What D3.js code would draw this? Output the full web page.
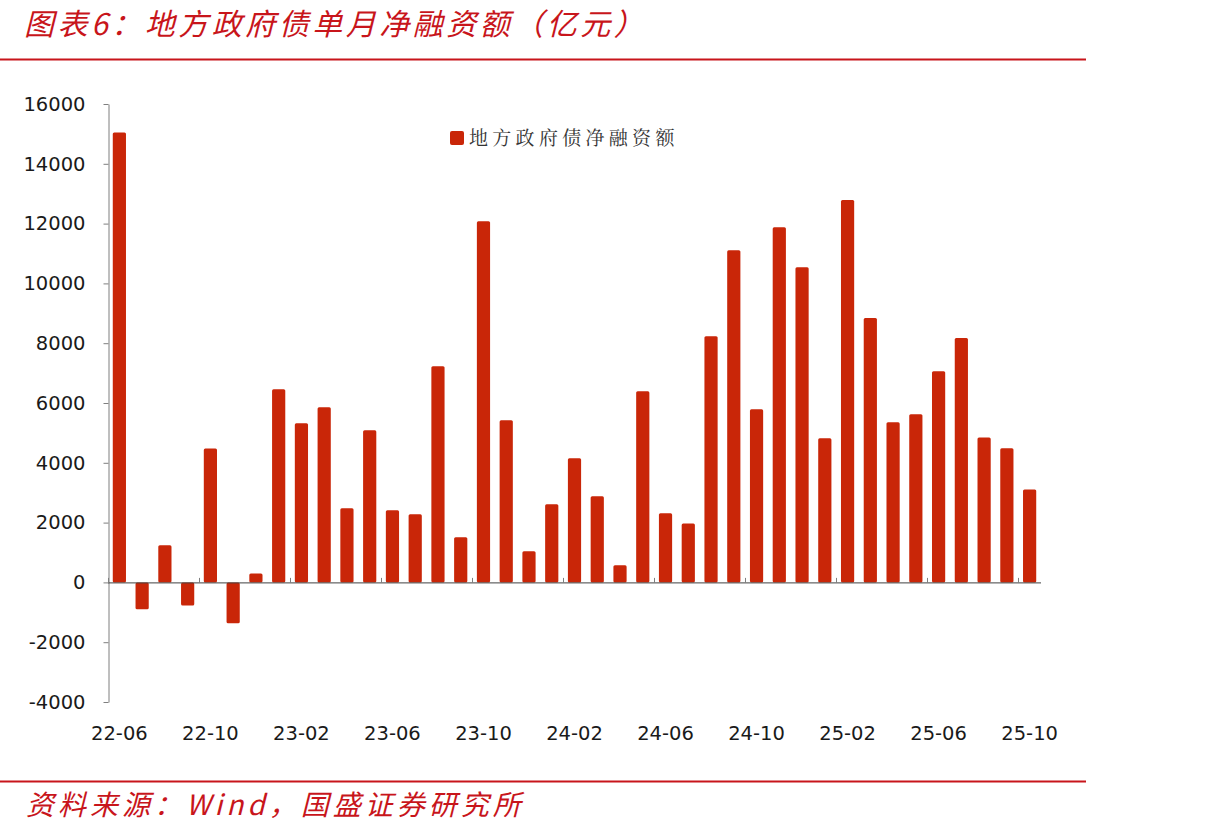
<!DOCTYPE html>
<html>
<head>
<meta charset="utf-8">
<script src="https://cdn.jsdelivr.net/npm/d3@7"></script>
<style>
  body { margin: 0; background: #fff; }
  svg { display: block; }
</style>
</head>
<body>
<div id="chart"></div>
<script>
const width = 1205;
const height = 835;

// monthly net financing of local government bonds, 100m yuan
const months = [
  '22-06', '22-07', '22-08', '22-09', '22-10', '22-11', '22-12',
  '23-01', '23-02', '23-03', '23-04', '23-05', '23-06', '23-07', '23-08', '23-09', '23-10', '23-11', '23-12',
  '24-01', '24-02', '24-03', '24-04', '24-05', '24-06', '24-07', '24-08', '24-09', '24-10', '24-11', '24-12',
  '25-01', '25-02', '25-03', '25-04', '25-05', '25-06', '25-07', '25-08', '25-09', '25-10'
];
const netFinancing = [
  15050, -900, 1240, -770, 4480, -1370, 300,
  6460, 5320, 5860, 2480, 5090, 2410, 2280, 7230, 1510, 12080, 5420, 1040,
  2610, 4150, 2880, 570, 6390, 2310, 1970, 8230, 11110, 5790, 11880, 10540,
  4820, 12790, 8840, 5360, 5620, 7060, 8170, 4850, 4490, 3110
];
const yTicks = [-4000, -2000, 0, 2000, 4000, 6000, 8000, 10000, 12000, 14000, 16000];
const xTickLabels = ['22-06', '22-10', '23-02', '23-06', '23-10', '24-02', '24-06', '24-10', '25-02', '25-06', '25-10'];

const seriesName = '地方政府债净融资额';
const titleText = '图表6：地方政府债单月净融资额（亿元）';
const sourceText = '资料来源：Wind，国盛证券研究所';

const red = '#c8151b';
const barColor = '#c92608';
const axisColor = '#7f7f7f';

const svg = d3.select('#chart')
  .append('svg')
  .attr('width', width)
  .attr('height', height);

// header and footer
svg.append('text')
  .attr('x', 24)
  .attr('y', 35)
  .attr('fill', red)
  .style('font-family', '"Noto Sans CJK SC", sans-serif')
  .style('font-size', '30px')
  .style('font-style', 'italic')
  .style('letter-spacing', '3.5px')
  .text(titleText);

svg.append('line')
  .attr('x1', 0).attr('x2', 1086)
  .attr('y1', 59.5).attr('y2', 59.5)
  .attr('stroke', red)
  .attr('stroke-width', 2);

svg.append('line')
  .attr('x1', 0).attr('x2', 1086)
  .attr('y1', 781.5).attr('y2', 781.5)
  .attr('stroke', red)
  .attr('stroke-width', 2);

svg.append('text')
  .attr('x', 26)
  .attr('y', 815)
  .attr('fill', red)
  .style('font-family', '"Noto Sans CJK SC", sans-serif')
  .style('font-size', '28px')
  .style('font-style', 'italic')
  .style('letter-spacing', '4px')
  .text(sourceText);

// scales
const x = d3.scaleBand()
  .domain(months)
  .range([108, 1041])
  .paddingInner(0.42)
  .paddingOuter(0.21);

const y = d3.scaleLinear()
  .domain([-4000, 16000])
  .range([702, 104]);

const chart = svg.append('g');

// bars
chart.selectAll('rect.bar')
  .data(months.map((m, i) => ({ month: m, value: netFinancing[i] })))
  .join('rect')
  .attr('class', 'bar')
  .attr('x', (d) => x(d.month))
  .attr('width', x.bandwidth())
  .attr('y', (d) => y(Math.max(0, d.value)))
  .attr('height', (d) => Math.abs(y(d.value) - y(0)))
  .attr('rx', 1.5)
  .attr('fill', barColor);

// y axis
const yAxis = chart.append('g')
  .attr('transform', 'translate(108.5,0)')
  .call(d3.axisLeft(y).tickValues(yTicks).tickSize(5).tickSizeOuter(0).tickPadding(18).tickFormat((d) => String(d)));
yAxis.select('.domain').attr('stroke', axisColor);
yAxis.selectAll('.tick line').attr('stroke', axisColor);
yAxis.selectAll('.tick text')
  .attr('fill', '#1a1a1a')
  .style('font-family', '"DejaVu Sans", Verdana, sans-serif')
  .style('font-size', '19.5px');

// x axis along zero
const step = x.step();
const xAxis = chart.append('g').attr('transform', `translate(0,${y(0) + 0.5})`);
xAxis.append('line')
  .attr('x1', 108).attr('x2', 1041)
  .attr('stroke', '#404040')
  .attr('stroke-width', 1);
xAxis.selectAll('line.tick')
  .data(xTickLabels)
  .join('line')
  .attr('class', 'tick')
  .attr('x1', (d) => Math.round(x(d) - (step - x.bandwidth()) / 2) + 0.5)
  .attr('x2', (d) => Math.round(x(d) - (step - x.bandwidth()) / 2) + 0.5)
  .attr('y1', 0).attr('y2', -5)
  .attr('stroke', axisColor);

chart.append('g')
  .selectAll('text')
  .data(xTickLabels)
  .join('text')
  .attr('x', (d) => x(d) + x.bandwidth() / 2)
  .attr('y', 740)
  .attr('text-anchor', 'middle')
  .attr('fill', '#1a1a1a')
  .style('font-family', '"DejaVu Sans", Verdana, sans-serif')
  .style('font-size', '19.5px')
  .text((d) => d);

// legend
const legend = svg.append('g').attr('transform', 'translate(450,131)');
legend.append('rect')
  .attr('width', 14).attr('height', 14)
  .attr('rx', 2)
  .attr('fill', barColor);
legend.append('text')
  .attr('x', 19)
  .attr('y', 14)
  .attr('fill', '#333')
  .style('font-family', '"Noto Serif CJK SC", "Noto Sans CJK SC", serif')
  .style('font-size', '19px')
  .style('letter-spacing', '4.3px')
  .text(seriesName);
</script>
</body>
</html>
